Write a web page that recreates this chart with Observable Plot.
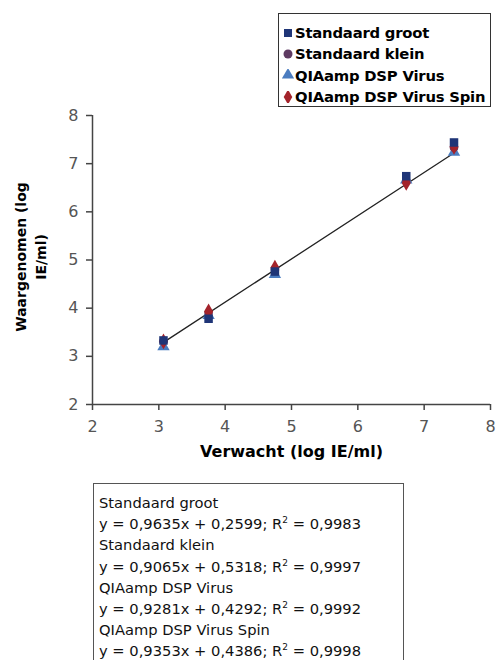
<!DOCTYPE html>
<html>
<head>
<meta charset="utf-8">
<script src="https://cdn.jsdelivr.net/npm/d3@7"></script>
<script src="https://cdn.jsdelivr.net/npm/@observablehq/plot@0.6"></script>
<style>
  html, body { margin: 0; padding: 0; background: #fff; overflow: hidden; }
  body { width: 496px; height: 660px; position: relative; font-family: "DejaVu Sans", sans-serif; }
  #chart { position: absolute; left: 0; top: 0; }
  #legend { position: absolute; left: 278px; top: 13px; width: 213px; height: 94px; border: 1.5px solid #333; box-sizing: border-box; background: #fff;
            font-family: "DejaVu Sans", sans-serif; font-weight: bold; font-size: 14.8px; color: #000; padding: 8px 0 0 3px; }
  #legend .row { height: 21.3px; line-height: 21.3px; display: flex; align-items: center; white-space: nowrap; letter-spacing: -0.2px; }
  #legend svg { margin-right: 1px; }
  #eq { position: absolute; left: 93px; top: 483px; width: 311px; height: 200px; border: 1.5px solid #555; box-sizing: border-box;
        font-family: "DejaVu Sans", sans-serif; font-size: 14.7px; color: #111; padding: 8px 0 0 5px; line-height: 21.2px; white-space: nowrap; }
  #eq sup { font-size: 9px; line-height: 0; vertical-align: 6px; }
</style>
</head>
<body>
<div id="chart"></div>
<div id="legend"></div>
<div id="eq"></div>
<script>
const expected = [3.07, 3.75, 4.75, 6.73, 7.45];
const standaardGroot = [3.33, 3.78, 4.76, 6.74, 7.44];
const standaardKlein = [3.32, 3.90, 4.80, 6.65, 7.33];
const dspVirus = [3.20, 3.85, 4.70, 6.66, 7.24];
const dspVirusSpin = [3.31, 3.93, 4.84, 6.60, 7.35];
const trendX = [3.07, 7.45];
const trendY = [3.29, 7.22];

const seriesNames = ["Standaard groot", "Standaard klein", "QIAamp DSP Virus", "QIAamp DSP Virus Spin"];
const seriesValues = [standaardGroot, standaardKlein, dspVirus, dspVirusSpin];
const seriesColors = ["#1f3577", "#5e3a62", "#4a7cc0", "#a3232b"];
const seriesSymbols = ["square", "circle", "triangle", "diamond"];
const seriesR = [4.8, 4.3, 4.6, 4.8];

const xTicks = [2, 3, 4, 5, 6, 7, 8];
const yTicks = [2, 3, 4, 5, 6, 7, 8];
const xLabel = "Verwacht (log IE/ml)";
const yLabel = "Waargenomen (log\nIE/ml)";
const equations = [
  ["Standaard groot", "y = 0,9635x + 0,2599; R", "2", " = 0,9983"],
  ["Standaard klein", "y = 0,9065x + 0,5318; R", "2", " = 0,9997"],
  ["QIAamp DSP Virus", "y = 0,9281x + 0,4292; R", "2", " = 0,9992"],
  ["QIAamp DSP Virus Spin", "y = 0,9353x + 0,4386; R", "2", " = 0,9998"]
];

const rows = [];
seriesNames.forEach((name, i) => {
  expected.forEach((x, j) => rows.push({series: name, idx: i, x, y: seriesValues[i][j]}));
});
const trend = trendX.map((x, i) => ({x, y: trendY[i]}));
const drawOrder = [2, 1, 3, 0];

const dotMarks = drawOrder.map(i => Plot.dot(rows.filter(d => d.idx === i), {
  x: "x", y: "y", symbol: () => seriesSymbols[i], fill: seriesColors[i], r: seriesR[i], stroke: "none"
}));

const chart = Plot.plot({
  width: 496,
  height: 480,
  marginLeft: 92,
  marginRight: 6,
  marginTop: 115,
  marginBottom: 76,
  x: {domain: [2, 8], ticks: xTicks},
  y: {domain: [2, 8], ticks: yTicks},
  symbol: {type: "identity"},
  style: {fontFamily: "DejaVu Sans, sans-serif", fontSize: "16px", color: "#444", overflow: "visible"},
  marks: [
    Plot.ruleX([2], {stroke: "#444", strokeWidth: 1.5}),
    Plot.ruleY([2], {stroke: "#444", strokeWidth: 1.5}),
    Plot.axisX({ticks: xTicks, tickFormat: "d", tickSize: 6, tickPadding: 10, stroke: "#444", strokeWidth: 1.5, label: null, fill: "#555", fontSize: 16}),
    Plot.axisY({ticks: yTicks, tickFormat: "d", tickSize: 6, tickPadding: 8, stroke: "#444", strokeWidth: 1.5, label: null, fill: "#555", fontSize: 16}),
    Plot.line(trend, {x: "x", y: "y", stroke: "#222", strokeWidth: 1.3}),
    ...dotMarks,
    Plot.text([xLabel], {frameAnchor: "bottom", dy: 52, fontWeight: "bold", fontSize: 16, fill: "#000"}),
    Plot.text([yLabel], {frameAnchor: "left", textAnchor: "middle", lineAnchor: "middle", dy: -3, dx: -63, rotate: -90, fontWeight: "bold", fontSize: 14, fill: "#000", lineHeight: 1.45})
  ]
});
document.getElementById("chart").appendChild(chart);

// legend
const legend = document.getElementById("legend");
seriesNames.forEach((name, i) => {
  const row = document.createElement("div");
  row.className = "row";
  const sym = d3.create("svg").attr("width", 12).attr("height", 12);
  const symType = {square: d3.symbolSquare, circle: d3.symbolCircle, triangle: d3.symbolTriangle, diamond: d3.symbolDiamond}[seriesSymbols[i]];
  sym.append("path").attr("transform", "translate(6,6)").attr("d", d3.symbol(symType, 64)).attr("fill", seriesColors[i]);
  row.appendChild(sym.node());
  const t = document.createElement("span");
  t.textContent = name;
  row.appendChild(t);
  legend.appendChild(row);
});

// equations box
const eq = document.getElementById("eq");
equations.forEach(([name, a, s, b]) => {
  const l1 = document.createElement("div");
  l1.textContent = name;
  eq.appendChild(l1);
  const l2 = document.createElement("div");
  l2.appendChild(document.createTextNode(a));
  const sup = document.createElement("sup");
  sup.textContent = s;
  l2.appendChild(sup);
  l2.appendChild(document.createTextNode(b));
  eq.appendChild(l2);
});
</script>
</body>
</html>
